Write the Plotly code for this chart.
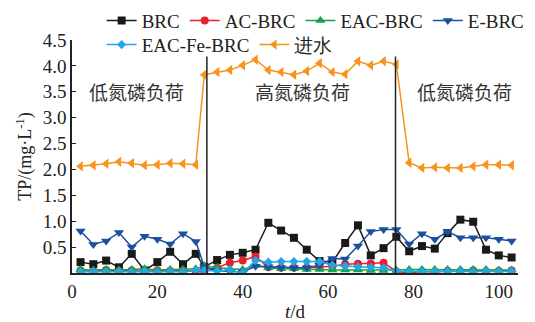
import plotly.graph_objects as go

days = [2, 5, 8, 11, 14, 17, 20, 23, 26, 29,
        31, 34, 37, 40, 43, 46, 49, 52, 55, 58, 61, 64, 67, 70, 73, 76,
        79, 82, 85, 88, 91, 94, 97, 100, 103]

brc = [0.21, 0.17, 0.24, 0.11, 0.37, 0.05, 0.21, 0.41, 0.17, 0.37,
       0.12, 0.25, 0.35, 0.39, 0.45, 0.97, 0.82, 0.68, 0.45, 0.23, 0.21, 0.58, 0.92, 0.34, 0.48, 0.70,
       0.42, 0.52, 0.47, 0.77, 1.03, 0.99, 0.45, 0.34, 0.30]

ac_brc = [0.05, 0.03, 0.06, 0.04, 0.05, 0.03, 0.05, 0.04, 0.05, 0.04,
          0.03, 0.10, 0.20, 0.24, 0.32, 0.11, 0.10, 0.10, 0.10, 0.11, 0.13, 0.17, 0.18, 0.18, 0.20, 0.03,
          0.00, 0.03, 0.02, 0.04, 0.03, 0.05, 0.03, 0.04, 0.05]

eac_brc = [0.07, 0.06, 0.07, 0.06, 0.07, 0.08, 0.06, 0.07, 0.07, 0.08,
           0.14, 0.10, 0.08, 0.07, 0.15, 0.10, 0.08, 0.08, 0.07, 0.07, 0.06, 0.06, 0.06, 0.05, 0.05, 0.06,
           0.07, 0.07, 0.07, 0.07, 0.07, 0.07, 0.07, 0.06, 0.06]

e_brc = [0.81, 0.55, 0.62, 0.78, 0.50, 0.71, 0.65, 0.56, 0.76, 0.61,
         0.12, 0.05, 0.03, 0.02, 0.13, 0.12, 0.10, 0.10, 0.10, 0.15, 0.28, 0.27, 0.52, 0.80, 0.84, 0.84,
         0.56, 0.76, 0.65, 0.80, 0.68, 0.68, 0.68, 0.65, 0.62]

eac_fe_brc = [0.02, 0.03, 0.02, 0.03, 0.02, 0.03, 0.02, 0.03, 0.02, 0.05,
              0.05, 0.04, 0.06, 0.00, 0.24, 0.21, 0.22, 0.22, 0.22, 0.22, 0.15, 0.13, 0.12, 0.11, 0.10, 0.04,
              0.03, 0.03, 0.03, 0.03, 0.03, 0.02, 0.03, 0.03, 0.03]

influent = [2.06, 2.08, 2.11, 2.15, 2.12, 2.08, 2.09, 2.12, 2.11, 2.09,
            3.83, 3.88, 3.92, 4.01, 4.12, 3.92, 3.88, 3.83, 3.90, 4.05, 3.88, 3.84, 4.09, 4.01, 4.09, 4.03,
            2.13, 2.03, 2.04, 2.03, 2.03, 2.06, 2.09, 2.09, 2.08]

phase_bounds = [31.6, 75.8]
phase_labels = ["低氮磷负荷", "高氮磷负荷", "低氮磷负荷"]
phase_label_x = [15, 54, 92]
phase_label_y = 3.5

yticks = [0.5, 1.0, 1.5, 2.0, 2.5, 3.0, 3.5, 4.0, 4.5]
xticks = [0, 20, 40, 60, 80, 100]

series = [
    ("BRC", brc, "#1a1a1a", "square", 8, "legend"),
    ("AC-BRC", ac_brc, "#e8202a", "circle", 8, "legend"),
    ("EAC-BRC", eac_brc, "#14a34a", "triangle-up", 9, "legend"),
    ("E-BRC", e_brc, "#1d4f9f", "triangle-down", 9, "legend"),
    ("EAC-Fe-BRC", eac_fe_brc, "#22a6e6", "diamond", 7, "legend2"),
    ("进水", influent, "#f7941d", "triangle-left", 9, "legend2"),
]

fig = go.Figure()
for name, vals, col, sym, sz, lg in series:
    fig.add_trace(go.Scatter(
        x=days, y=vals, name=name, mode="lines+markers", legend=lg,
        line=dict(color=col, width=1.5),
        marker=dict(symbol=sym, size=sz, color=col),
    ))

for xb in phase_bounds:
    fig.add_shape(type="line", xref="x", yref="y", x0=xb, x1=xb, y0=0, y1=4.18,
                  line=dict(color="#222222", width=1.5))

for lab, lx in zip(phase_labels, phase_label_x):
    fig.add_annotation(x=lx, y=phase_label_y, text=lab, showarrow=False,
                       font=dict(family="Noto Sans CJK SC", size=19, color="#333333"))

serif = "Liberation Serif"
leg_common = dict(orientation="h", xref="container", yref="container",
                  xanchor="left", yanchor="top",
                  font=dict(family=serif, size=19, color="#222222"), itemwidth=30,
                  bgcolor="rgba(0,0,0,0)")
fig.update_layout(
    width=535, height=322,
    margin=dict(l=72, r=17, t=40, b=49, autoexpand=False),
    paper_bgcolor="white", plot_bgcolor="white",
    font=dict(family=serif, size=19, color="#222222"),
    showlegend=True,
    legend=dict(x=0.19, y=0.995, **leg_common),
    legend2=dict(x=0.19, y=0.92, **leg_common),
    xaxis=dict(range=[0, 104.5], tickvals=xticks, showline=True, linecolor="#222222",
               linewidth=1.5, showgrid=False, zeroline=False, ticks="",
               title=dict(text="<i>t</i>/d", font=dict(family=serif, size=19), standoff=6)),
    yaxis=dict(range=[0, 4.5], tickvals=yticks, tickformat=".1f", showline=True,
               linecolor="#222222", linewidth=1.5, showgrid=False, zeroline=False,
               ticks="inside", ticklen=4, tickcolor="#222222",
               title=dict(text="TP/(mg·L<sup>-1</sup>)", font=dict(family=serif, size=18), standoff=6)),
)

fig.write_html("out.html")
